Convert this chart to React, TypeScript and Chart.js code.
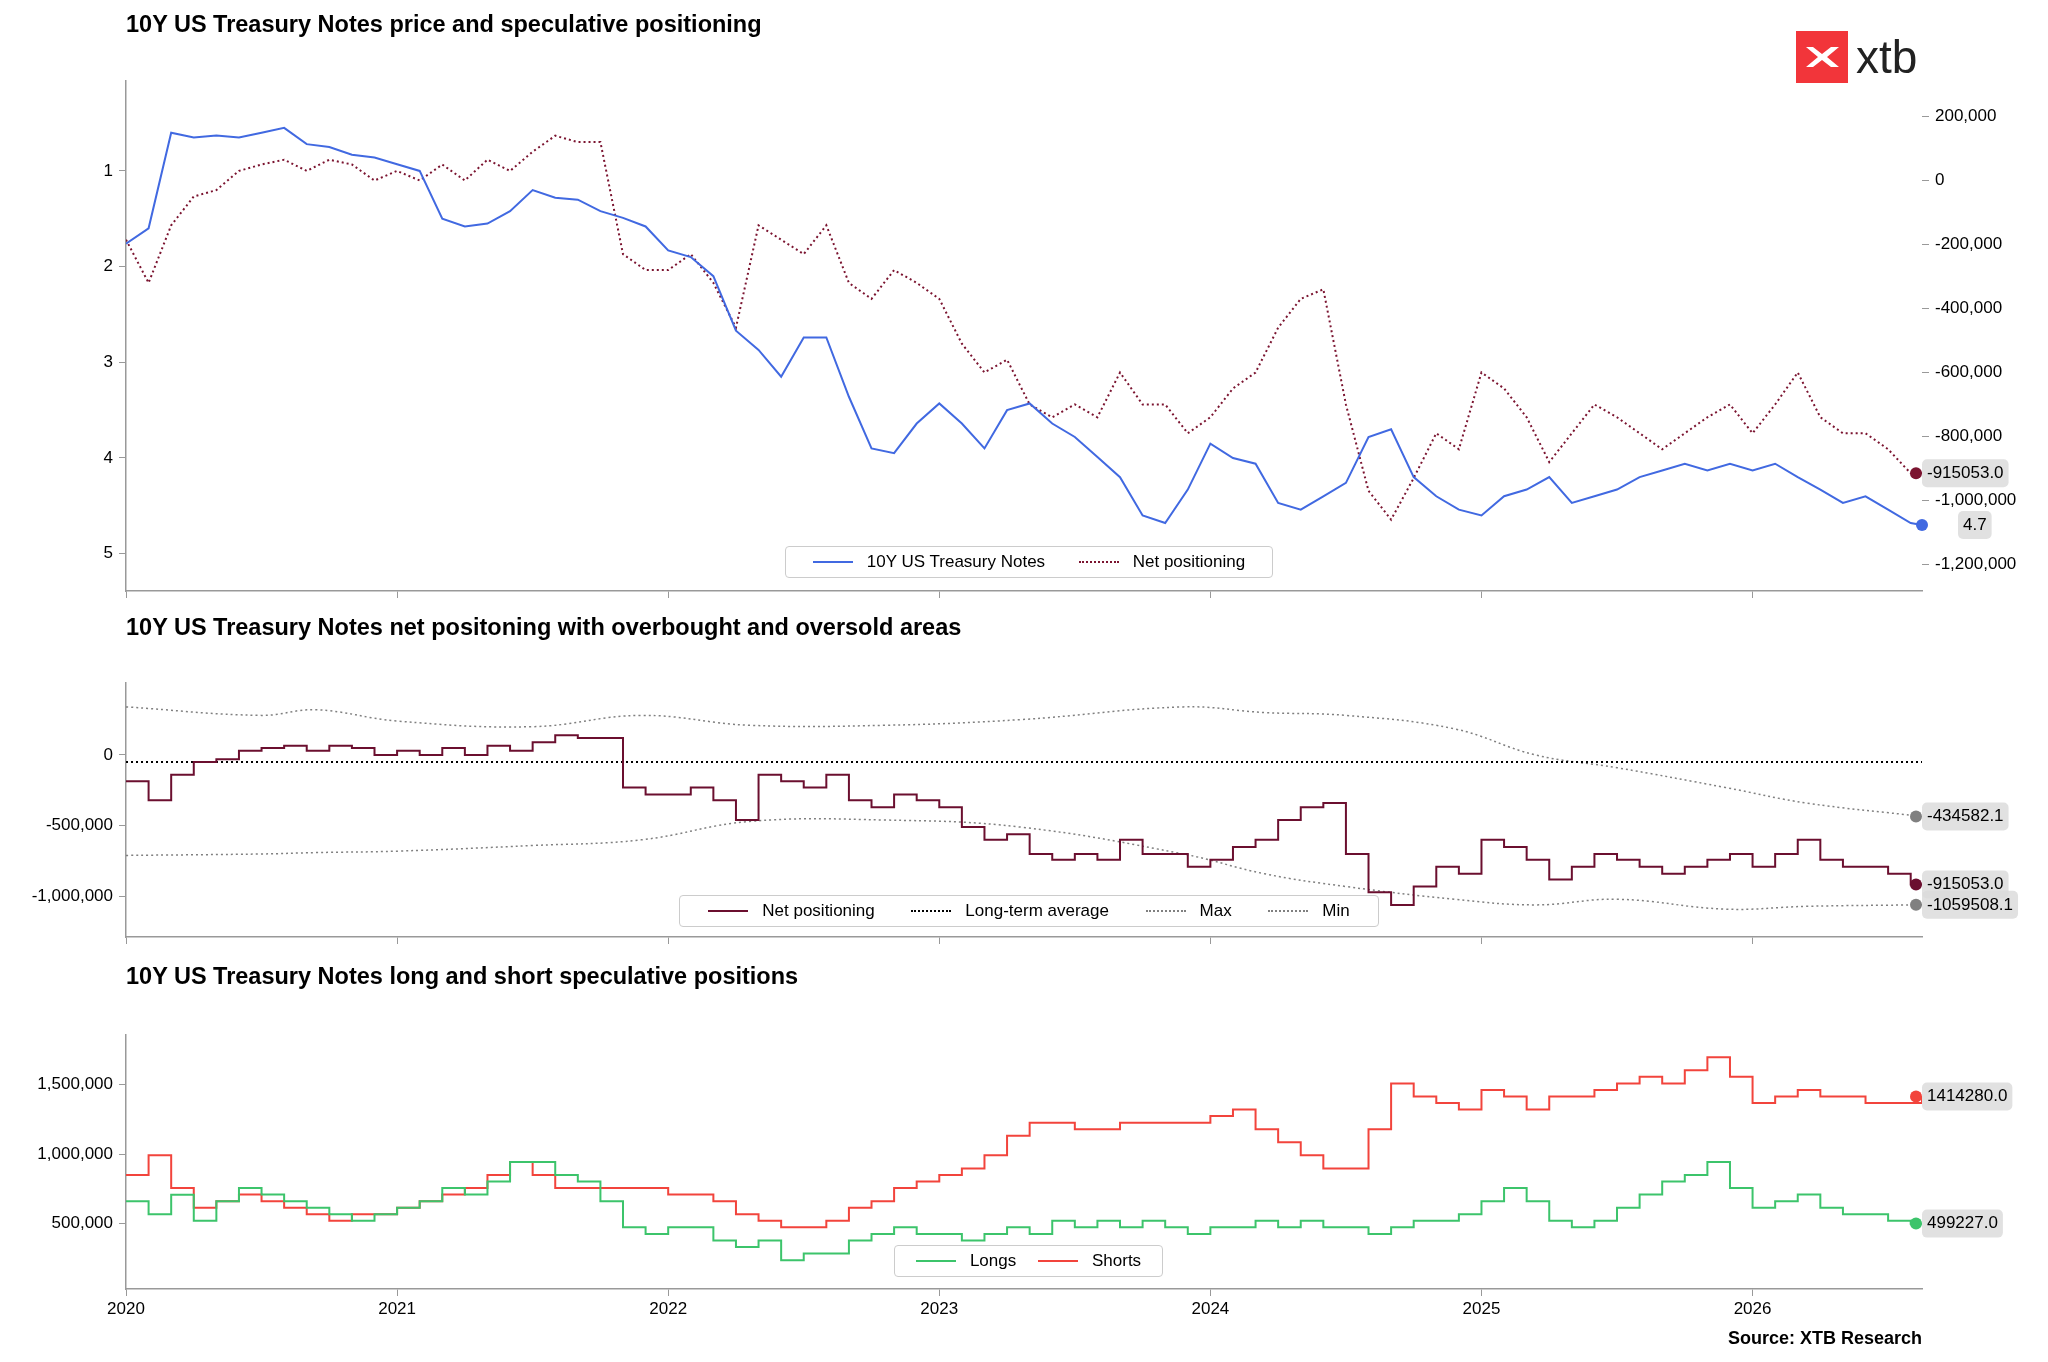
import React, { useEffect, useRef } from "react";
import { Chart, registerables } from "chart.js";
Chart.register(...registerables);

const START_YEAR = 2020;
const END_X = 2026.625;

const PRICE = [1.76,1.6,0.6,0.65,0.63,0.65,0.6,0.55,0.72,0.75,0.83,0.86,
0.93,1.0,1.5,1.58,1.55,1.42,1.2,1.28,1.3,1.42,1.49,1.58,
1.83,1.9,2.1,2.67,2.87,3.15,2.74,2.74,3.36,3.9,3.95,3.64,
3.43,3.64,3.9,3.5,3.43,3.64,3.78,3.99,4.2,4.6,4.68,4.33,
3.85,4.0,4.06,4.47,4.54,4.4,4.26,3.78,3.7,4.2,4.4,4.54,
4.6,4.4,4.33,4.2,4.47,4.4,4.33,4.2,4.13,4.06,4.13,4.06,
4.13,4.06,4.2,4.33,4.47,4.4,4.54,4.68,4.7];

const NET = [-185,-320,-140,-50,-30,30,50,65,30,65,50,0,
30,0,50,0,65,30,90,140,120,120,-230,-280,
-280,-230,-320,-460,-140,-185,-230,-140,-320,-370,-280,-320,
-370,-510,-600,-560,-700,-740,-700,-740,-600,-700,-700,-790,
-740,-650,-600,-460,-370,-340,-700,-970,-1060,-930,-790,-840,
-600,-650,-740,-880,-790,-700,-740,-790,-840,-790,-740,-700,
-790,-700,-600,-740,-790,-790,-840,-915,-915.053].map(v => v * 1000);

const LONGS = [660,566,707,519,660,755,708,660,613,566,519,566,
613,660,755,708,802,943,943,849,802,660,472,425,
472,472,377,330,377,236,283,283,377,425,472,425,
425,377,425,472,425,519,472,519,472,519,472,425,
472,472,519,472,519,472,472,425,472,519,519,566,
660,755,660,519,472,519,613,708,802,849,943,755,
613,660,708,613,566,566,519,499,499.227].map(v => v * 1000);

const SHORTS = [849,991,755,613,660,708,660,613,566,519,566,566,
613,660,708,755,849,943,849,755,755,755,755,755,
708,708,660,566,519,472,472,519,613,660,755,802,
849,896,991,1132,1226,1226,1179,1179,1226,1226,1226,1226,
1274,1321,1179,1085,991,896,896,1179,1509,1415,1368,1321,
1462,1415,1321,1415,1415,1462,1509,1557,1509,1604,1698,1557,
1368,1415,1462,1415,1415,1368,1368,1414.28].map(v => v * 1000);

const LT_AVG = -50000;
const BAND_X = [2020,2020.5,2020.7,2021,2021.5,2021.9,2022.3,2022.8,2023.3,2023.9,2024.2,2024.5,2024.9,2025.2,2025.5,2025.9,2026.2,END_X];
const MAX_BAND = [340,280,320,240,200,280,210,210,250,340,300,280,185,0,-90,-230,-340,-434.5821].map(v => v * 1000);
const MIN_BAND = [-710,-700,-690,-680,-640,-600,-470,-460,-510,-700,-840,-930,-1020,-1060,-1020,-1090,-1070,-1059.5081].map(v => v * 1000);

const YEAR_TICKS = ["2020","2021","2022","2023","2024","2025","2026"];

const xOf = (i: number, n: number) => (i === n - 1 ? END_X : START_YEAR + i / 12);
const pts = (arr: number[]) => arr.map((y, i) => ({ x: xOf(i, arr.length), y }));
const bandPts = (arr: number[]) => arr.map((y, i) => ({ x: BAND_X[i], y }));

const FONT = "'Liberation Sans', Arial, sans-serif";
const fmt = (v: number) => Math.round(v).toLocaleString("en-US");
const RIGHT_W = 126;

const endLabels = {
  id: "endLabels",
  afterDatasetsDraw(chart: any) {
    const ctx = chart.ctx;
    chart.data.datasets.forEach((ds: any, di: number) => {
      if (!ds.endLabel) return;
      const meta = chart.getDatasetMeta(di);
      const last = ds.data[ds.data.length - 1];
      const xs = chart.scales.x, ys = chart.scales[meta.yAxisID];
      const px = xs.getPixelForValue(last.x) - (ds.endLabel.dotDx || 0), py = ys.getPixelForValue(last.y);
      ctx.save();
      ctx.fillStyle = ds.endLabel.dot;
      ctx.beginPath(); ctx.arc(px, py, 6, 0, Math.PI * 2); ctx.fill();
      ctx.font = `17px ${FONT}`;
      const t = ds.endLabel.text;
      const w = ctx.measureText(t).width + 10;
      const bx = px + 6 + (ds.endLabel.dx || 0), by = py - 14 + (ds.endLabel.dy || 0);
      ctx.fillStyle = "rgba(220,220,220,0.85)";
      ctx.beginPath(); (ctx as any).roundRect(bx, by, w, 28, 5); ctx.fill();
      ctx.fillStyle = "#000"; ctx.textBaseline = "middle";
      ctx.fillText(t, bx + 5, by + 14);
      ctx.restore();
    });
  },
};

const tickFont = { family: FONT, size: 17 };
const axisLine = { display: true, color: "#999", width: 1.5 };
const gridT = { drawOnChartArea: false, drawTicks: true, tickLength: 7, color: "#999" };

function xAxis(labels: boolean, h: number) {
  return {
    type: "linear", min: 2020, max: END_X,
    border: axisLine, grid: gridT,
    afterBuildTicks: (s: any) => { s.ticks = YEAR_TICKS.map(v => ({ value: +v })); },
    ticks: { display: labels, font: tickFont, color: "#000", callback: (v: any) => String(v), maxRotation: 0 },
    afterFit: (s: any) => { s.height = h; },
  };
}
function yAxis(min: number, max: number, vals: number[], opts: any = {}) {
  return {
    type: "linear", min, max, border: opts.noBorder ? { display: false } : axisLine, grid: gridT,
    position: opts.position || "left", reverse: !!opts.reverse,
    afterBuildTicks: (s: any) => { s.ticks = vals.map(v => ({ value: v })); },
    ticks: { font: tickFont, color: "#000", callback: (v: any) => fmt(v), padding: 6 },
    afterFit: (s: any) => { s.width = opts.width ?? 126; },
  };
}

function useChart(ref: any, cfg: () => any) {
  useEffect(() => {
    const c = new Chart(ref.current, cfg());
    return () => c.destroy();
  }, []);
}

const baseOpts = (top: number) => ({
  animation: false, responsive: false, maintainAspectRatio: false,
  layout: { padding: { top, left: 0, right: 0, bottom: 0 } },
  plugins: { legend: { display: false }, tooltip: { enabled: false } },
  elements: { point: { radius: 0 }, line: { borderWidth: 2 } },
});

function Legend({ items, left, top, width }: any) {
  return (
    <div style={{ position: "absolute", left, top, width, height: 32, border: "1px solid #ccc", borderRadius: 4, background: "rgba(255,255,255,0.9)", display: "flex", alignItems: "center", justifyContent: "space-around", fontFamily: FONT, fontSize: 17, boxSizing: "border-box", padding: "0 10px" }}>
      {items.map((it: any) => (
        <div key={it.label} style={{ display: "flex", alignItems: "center" }}>
          <div style={{ width: 40, borderTop: `2px ${it.dash ? "dotted" : "solid"} ${it.color}`, marginRight: 14 }} />
          <span>{it.label}</span>
        </div>
      ))}
    </div>
  );
}

const titleStyle: any = { position: "absolute", left: 126, fontFamily: FONT, fontWeight: "bold", fontSize: 23.5, color: "#000" };

export default function App() {
  const r1 = useRef<HTMLCanvasElement>(null);
  const r2 = useRef<HTMLCanvasElement>(null);
  const r3 = useRef<HTMLCanvasElement>(null);

  useChart(r1, () => ({
    type: "line",
    data: { datasets: [
      { data: pts(PRICE), borderColor: "#4169E1", yAxisID: "y", endLabel: { text: "4.7", dot: "#4169E1", dx: 30, dy: 0 } },
      { data: pts(NET), borderColor: "#7B1430", borderDash: [2, 3], yAxisID: "y2", endLabel: { text: "-915053.0", dot: "#7B1430", dotDx: 6 } },
    ] },
    options: { ...baseOpts(81), scales: {
      x: xAxis(false, 29),
      y: yAxis(0.06, 5.39, [1, 2, 3, 4, 5], { reverse: true }),
      y2: yAxis(-1283000, 311000, [200000, 0, -200000, -400000, -600000, -800000, -1000000, -1200000], { position: "right", width: RIGHT_W, noBorder: true }),
    } },
    plugins: [endLabels],
  }));

  useChart(r2, () => ({
    type: "line",
    data: { datasets: [
      { data: pts(NET), borderColor: "#6B0F2F", stepped: true, yAxisID: "y", endLabel: { text: "-915053.0", dot: "#6B0F2F", dotDx: 6 } },
      { data: [{ x: 2020, y: LT_AVG }, { x: END_X, y: LT_AVG }], borderColor: "#000", borderDash: [2, 3], yAxisID: "y" },
      { data: bandPts(MAX_BAND), borderColor: "#808080", borderDash: [2, 3], borderWidth: 1.5, tension: 0.4, yAxisID: "y", endLabel: { text: "-434582.1", dot: "#808080", dotDx: 6 } },
      { data: bandPts(MIN_BAND), borderColor: "#808080", borderDash: [2, 3], borderWidth: 1.5, tension: 0.4, yAxisID: "y", endLabel: { text: "-1059508.1", dot: "#808080", dotDx: 6 } },
    ] },
    options: { ...baseOpts(63), layout: { padding: { top: 63, right: RIGHT_W, left: 0, bottom: 0 } }, scales: {
      x: xAxis(false, 23),
      y: yAxis(-1287000, 509000, [0, -500000, -1000000]),
    } },
    plugins: [endLabels],
  }));

  useChart(r3, () => ({
    type: "line",
    data: { datasets: [
      { data: pts(LONGS), borderColor: "#3CC46B", stepped: true, yAxisID: "y", endLabel: { text: "499227.0", dot: "#3CC46B", dotDx: 6 } },
      { data: pts(SHORTS), borderColor: "#F2443C", stepped: true, yAxisID: "y", endLabel: { text: "1414280.0", dot: "#F2443C", dotDx: 6 } },
    ] },
    options: { ...baseOpts(75), layout: { padding: { top: 75, right: RIGHT_W, left: 0, bottom: 0 } }, scales: {
      x: xAxis(true, 73),
      y: yAxis(28000, 1858000, [500000, 1000000, 1500000]),
    } },
    plugins: [endLabels],
  }));

  return (
    <div style={{ position: "fixed", left: 0, top: 0, width: 2048, height: 1362, background: "#fff", overflow: "hidden" }}>
      <canvas ref={r1} width={2048} height={620} style={{ position: "absolute", left: 0, top: 0, width: 2048, height: 620 }} />
      <canvas ref={r2} width={2048} height={340} style={{ position: "absolute", left: 0, top: 620, width: 2048, height: 340 }} />
      <canvas ref={r3} width={2048} height={402} style={{ position: "absolute", left: 0, top: 960, width: 2048, height: 402 }} />
      <div style={{ ...titleStyle, top: 11 }}>10Y US Treasury Notes price and speculative positioning</div>
      <div style={{ ...titleStyle, top: 614 }}>10Y US Treasury Notes net positoning with overbought and oversold areas</div>
      <div style={{ ...titleStyle, top: 963 }}>10Y US Treasury Notes long and short speculative positions</div>
      <Legend left={785} top={546} width={488} items={[{ label: "10Y US Treasury Notes", color: "#4169E1" }, { label: "Net positioning", color: "#7B1430", dash: true }]} />
      <Legend left={679} top={895} width={700} items={[{ label: "Net positioning", color: "#6B0F2F" }, { label: "Long-term average", color: "#000", dash: true }, { label: "Max", color: "#808080", dash: true }, { label: "Min", color: "#808080", dash: true }]} />
      <Legend left={894} top={1245} width={269} items={[{ label: "Longs", color: "#3CC46B" }, { label: "Shorts", color: "#F2443C" }]} />
      <div style={{ position: "absolute", right: RIGHT_W, top: 1328, fontFamily: FONT, fontWeight: "bold", fontSize: 18 }}>Source: XTB Research</div>
      <div style={{ position: "absolute", left: 1796, top: 31, display: "flex", alignItems: "center" }}>
        <svg width={52} height={52} viewBox="0 0 52 52">
          <rect width={52} height={52} fill="#F2353A" />
          <path d="M10 16 L22 26 L10 36 L17 36 L26 29 L35 36 L43 36 L31 26 L43 16 L35 16 L26 23 L17 16 Z" fill="#fff" />
        </svg>
        <span style={{ fontFamily: FONT, fontSize: 46, color: "#222", marginLeft: 8, lineHeight: "52px" }}>xtb</span>
      </div>
    </div>
  );
}
